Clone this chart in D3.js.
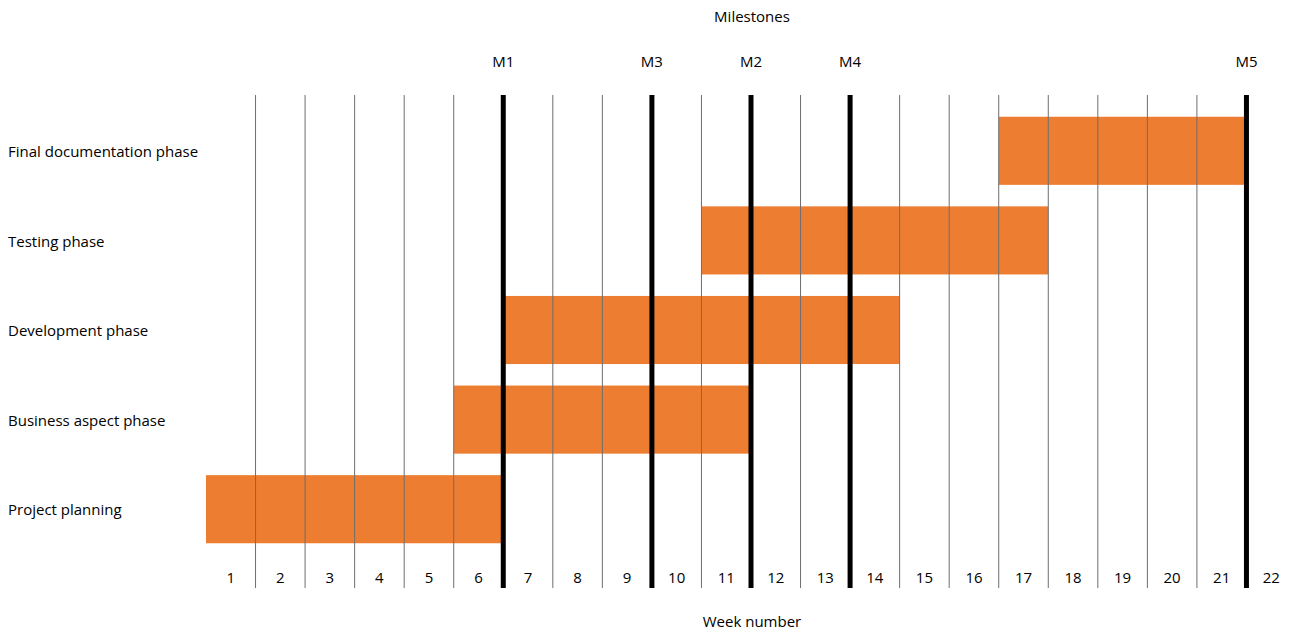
<!DOCTYPE html>
<html>
  <head>
    <meta charset="utf-8">
    <title>Milestones</title>
    <style>
      body { margin: 0; background: #fff; }
      text { font-family: "Open Sans", sans-serif; font-size: 15px; fill: #000; }
    </style>
  </head>
  <body>
    <script src="https://d3js.org/d3.v7.min.js"></script>
    <svg id="chart" width="1292" height="630"></svg>
    <script>
      // phases, bottom to top
      const phases = ['Project planning', 'Business aspect phase', 'Development phase', 'Testing phase', 'Final documentation phase']
      const startWeek = [1, 6, 7, 11, 17]
      const endWeek = [6, 11, 14, 17, 21]

      const weeks = d3.range(1, 23)
      const milestoneNames = ['M1', 'M3', 'M2', 'M4', 'M5']
      const milestoneWeeks = [6, 9, 11, 13, 21]   // milestone at end of this week

      const svg = d3.select('#chart')

      const x = d3.scaleLinear()
        .domain([0.5, 22.5])
        .range([206, 1296])

      const y = d3.scaleBand()
        .domain(phases.slice().reverse())
        .range([106, 554])
        .paddingInner(0.24)
        .paddingOuter(0.12)

      const lineTop = 95, lineBottom = 588

      // bars
      svg.append('g')
        .selectAll('rect')
        .data(phases)
        .join('rect')
          .attr('x', (d, i) => x(startWeek[i] - 0.5))
          .attr('y', d => y(d))
          .attr('width', (d, i) => x(endWeek[i] + 0.5) - x(startWeek[i] - 0.5))
          .attr('height', y.bandwidth())
          .style('fill', '#ED7D31')

      // thin week lines
      svg.append('g')
        .selectAll('line')
        .data(d3.range(1, 22).filter(w => !milestoneWeeks.includes(w)))
        .join('line')
          .attr('x1', d => x(d + 0.5))
          .attr('x2', d => x(d + 0.5))
          .attr('y1', lineTop)
          .attr('y2', lineBottom)
          .style('stroke', '#6e6e6e')
          .style('stroke-width', 1)

      // milestone lines
      svg.append('g')
        .selectAll('line')
        .data(milestoneWeeks)
        .join('line')
          .attr('x1', d => x(d + 0.5))
          .attr('x2', d => x(d + 0.5))
          .attr('y1', lineTop)
          .attr('y2', lineBottom)
          .style('stroke', '#000')
          .style('stroke-width', 5)

      // milestone labels
      svg.append('g')
        .selectAll('text')
        .data(milestoneNames)
        .join('text')
          .attr('x', (d, i) => x(milestoneWeeks[i] + 0.5))
          .attr('y', 62)
          .attr('dy', '0.35em')
          .attr('text-anchor', 'middle')
          .text(d => d)

      // week labels
      svg.append('g')
        .selectAll('text')
        .data(weeks)
        .join('text')
          .attr('x', d => x(d))
          .attr('y', 578)
          .attr('dy', '0.35em')
          .attr('text-anchor', 'middle')
          .text(d => d)

      // phase labels
      svg.append('g')
        .selectAll('text')
        .data(phases)
        .join('text')
          .attr('x', 8)
          .attr('y', d => y(d) + y.bandwidth() / 2 + 1)
          .attr('dy', '0.35em')
          .text(d => d)

      svg.append('text')
        .attr('x', 752)
        .attr('y', 17)
        .attr('dy', '0.35em')
        .attr('text-anchor', 'middle')
        .text('Milestones')

      svg.append('text')
        .attr('x', 752)
        .attr('y', 622)
        .attr('dy', '0.35em')
        .attr('text-anchor', 'middle')
        .text('Week number')
    </script>
  </body>
</html>
